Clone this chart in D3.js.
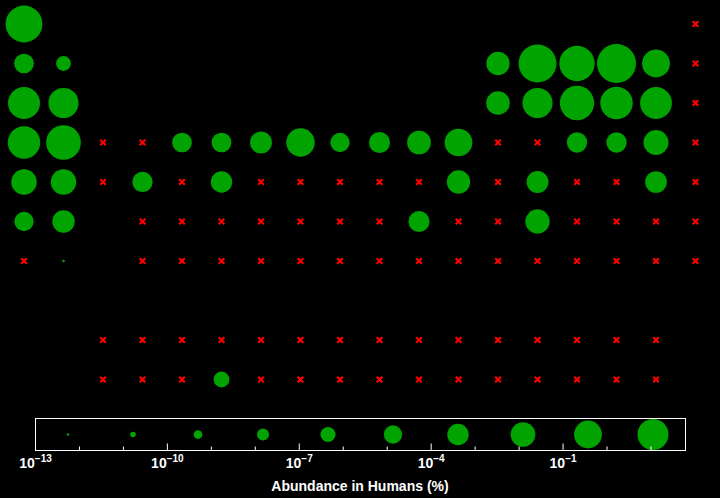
<!DOCTYPE html>
<html><head><meta charset="utf-8">
<script src="https://cdn.jsdelivr.net/npm/d3@7"></script>
<style>html,body{margin:0;padding:0;background:#000;}svg{display:block;}</style>
</head><body>
<script>
// Element symbols by atomic number 1..118
const symbols = ["H","He","Li","Be","B","C","N","O","F","Ne","Na","Mg","Al","Si","P","S","Cl","Ar",
"K","Ca","Sc","Ti","V","Cr","Mn","Fe","Co","Ni","Cu","Zn","Ga","Ge","As","Se","Br","Kr",
"Rb","Sr","Y","Zr","Nb","Mo","Tc","Ru","Rh","Pd","Ag","Cd","In","Sn","Sb","Te","I","Xe",
"Cs","Ba","La","Ce","Pr","Nd","Pm","Sm","Eu","Gd","Tb","Dy","Ho","Er","Tm","Yb","Lu",
"Hf","Ta","W","Re","Os","Ir","Pt","Au","Hg","Tl","Pb","Bi","Po","At","Rn",
"Fr","Ra","Ac","Th","Pa","U","Np","Pu","Am","Cm","Bk","Cf","Es","Fm","Md","No","Lr",
"Rf","Db","Sg","Bh","Hs","Mt","Ds","Rg","Cn","Nh","Fl","Mc","Lv","Ts","Og"];

// Abundance in humans (% by mass); null = no data
const abundance = {
  H:10, Li:3e-6, Be:4e-8, B:7e-5, C:23, N:2.6, O:61, F:0.0037,
  Na:0.14, Mg:0.027, Al:9e-5, Si:0.026, P:1.1, S:0.2, Cl:0.12,
  K:0.2, Ca:1.4, V:3e-6, Cr:3e-6, Mn:2e-5, Fe:0.006, Co:2e-6, Ni:1e-5, Cu:1e-4, Zn:0.0033,
  As:5e-6, Se:5e-6, Br:0.00029,
  Rb:0.00046, Sr:0.00046, Zr:5e-6, Mo:1.3e-5, Cd:7.2e-5, Sn:2e-5, I:1.6e-5,
  Cs:2e-6, Ba:3.1e-5, Au:1e-5, Pb:0.00017,
  Ra:1e-12, U:1e-7
};

const domainMin = 1e-13, domainMax = 61;
const tickExponents = [-13,-10,-7,-4,-1];
const minorExponents = [-12,-11,-9,-8,-6,-5,-3,-2,0,1];
const axisTitle = "Abundance in Humans (%)";
const legendBins = 10;

// grid position from atomic number
function position(z){
  if (z<=2) return {row:1, col: z===1?1:18};
  if (z<=10){const o=z-3; return {row:2, col:o<2?o+1:o+11};}
  if (z<=18){const o=z-11; return {row:3, col:o<2?o+1:o+11};}
  if (z<=36) return {row:4, col:z-18};
  if (z<=54) return {row:5, col:z-36};
  if (z<=86){
    if (z<=56) return {row:6, col:z-54};
    if (z<=71) return {row:9, col:z-57+3};
    return {row:6, col:z-68};
  }
  if (z<=88) return {row:7, col:z-86};
  if (z<=103) return {row:10, col:z-89+3};
  return {row:7, col:z-100};
}

const data = symbols.map((s,i)=>Object.assign({sym:s, z:i+1, value:abundance[s]??null}, position(i+1)));

const W=720,H=498;
const svg=d3.select("body").append("svg").attr("width",W).attr("height",H).style("background","#000");

const x=d3.scaleLinear().domain([1,18]).range([24,695.5]);
const y=d3.scaleLinear().domain([1,10]).range([24,379.5]);
const r=d3.scaleLog().domain([domainMin,domainMax]).range([0,19.5]);
const green="#00a300", red="#ff0000";

const g=svg.append("g");
g.selectAll("circle.el").data(data.filter(d=>d.value!=null)).join("circle")
  .attr("class","el").attr("cx",d=>x(d.col)).attr("cy",d=>y(d.row))
  .attr("r",d=>Math.max(1.3,r(d.value))).attr("fill",green);
g.selectAll("path.na").data(data.filter(d=>d.value==null)).join("path")
  .attr("class","na").attr("transform",d=>`translate(${x(d.col)},${y(d.row)})`)
  .attr("d","M-2.8,-2.8L2.8,2.8M-2.8,2.8L2.8,-2.8")
  .attr("stroke",red).attr("stroke-width",2.2).attr("fill","none");

// legend
const ax=d3.scaleLog().domain([domainMin,domainMax]).range([35.5,685.5]);
const boxTop=418.5, boxBottom=450.5;
const lr=d3.scaleLinear().domain([0,1]).range([0.4,16.3]);
const lo=Math.log10(domainMin), hi=Math.log10(domainMax);
const bins=d3.range(legendBins).map(i=>(i+0.5)/legendBins);
svg.selectAll("circle.leg").data(bins).join("circle").attr("class","leg")
  .attr("cx",t=>ax(Math.pow(10,lo+t*(hi-lo)))).attr("cy",(boxTop+boxBottom)/2)
  .attr("r",t=>Math.max(1.3,lr(t))).attr("fill",green);

svg.append("rect").attr("x",35.5).attr("y",boxTop).attr("width",650).attr("height",boxBottom-boxTop)
  .attr("fill","none").attr("stroke","#fff").attr("stroke-width",1);

const axisG=svg.append("g").attr("transform",`translate(0,${boxBottom})`);
axisG.selectAll("line.maj").data(tickExponents).join("line").attr("class","maj")
  .attr("x1",e=>ax(Math.pow(10,e))).attr("x2",e=>ax(Math.pow(10,e))).attr("y1",0).attr("y2",-7)
  .attr("stroke","#fff");
axisG.selectAll("line.min").data(minorExponents).join("line").attr("class","min")
  .attr("x1",e=>ax(Math.pow(10,e))).attr("x2",e=>ax(Math.pow(10,e))).attr("y1",0).attr("y2",-4)
  .attr("stroke","#fff");
const lbl=axisG.selectAll("text.tl").data(tickExponents).join("text").attr("class","tl")
  .attr("x",e=>ax(Math.pow(10,e))).attr("y",17.5).attr("text-anchor","middle")
  .attr("fill","#fff").style("font-family","Liberation Sans, Arial, sans-serif")
  .style("font-weight","bold").style("font-size","14px");
lbl.append("tspan").text("10");
lbl.append("tspan").attr("dy",-6).style("font-size","10px").text(e=>"\u2212"+Math.abs(e));

svg.append("text").attr("x",360).attr("y",491).attr("text-anchor","middle").attr("fill","#fff")
  .style("font-family","Liberation Sans, Arial, sans-serif").style("font-weight","bold").style("font-size","14px")
  .text(axisTitle);
</script>
</body></html>
